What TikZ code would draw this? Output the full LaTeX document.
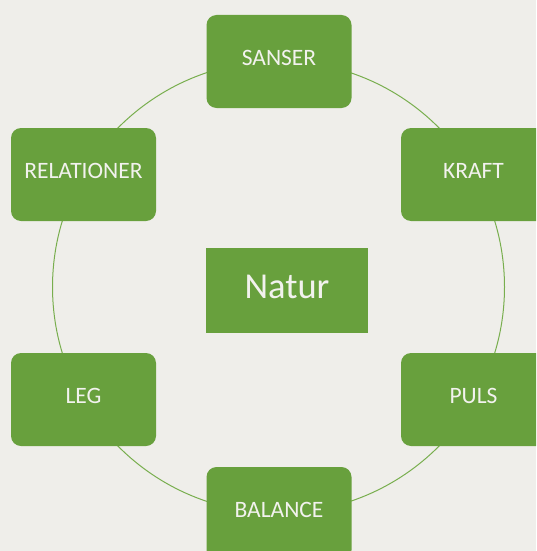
\documentclass[tikz,border=0pt]{standalone}
\usepackage{fontspec}
\setmainfont{Carlito}
\usepackage{tikz}
\definecolor{bggray}{HTML}{EFEEEA}
\definecolor{natgreen}{HTML}{68A03D}
\definecolor{ringgreen}{HTML}{78AE4E}
\definecolor{labelwhite}{HTML}{F2F2EE}

\begin{document}
\begin{tikzpicture}[x=1pt,y=-1pt,
  box/.style={fill=natgreen, rounded corners=10pt, inner sep=0pt,
    minimum width=145pt, minimum height=93pt, text=labelwhite,
    font=\fontsize{23.5}{28}\selectfont, text height=15pt, text depth=8pt},
  centerbox/.style={fill=natgreen, inner sep=0pt,
    minimum width=162pt, minimum height=85pt, text=labelwhite,
    font=\fontsize{36.5}{42}\selectfont, text height=24pt, text depth=9pt},
  ring/.style={draw=ringgreen, line width=1pt, circle, minimum size=452pt, inner sep=0pt}]
\useasboundingbox (0,0) rectangle (536,551);
\fill[bggray] (0,0) rectangle (536,551);
\clip (0,0) rectangle (536,551);
% ring behind the boxes
\node[ring] (ring) at (278.5,287) {};
% boxes
\node[box] (sanser) at (279,61.5) {SANSER};
\node[box] (relationer) at (83.5,174.5) {RELATIONER};
\node[box] (kraft) at (473.5,174.5) {KRAFT};
\node[centerbox] (natur) at (287,290.5) {Natur};
\node[box] (leg) at (83.5,399.5) {LEG};
\node[box] (puls) at (473.5,399.5) {PULS};
\node[box] (balance) at (279,513.5) {BALANCE};
\end{tikzpicture}
\end{document}
